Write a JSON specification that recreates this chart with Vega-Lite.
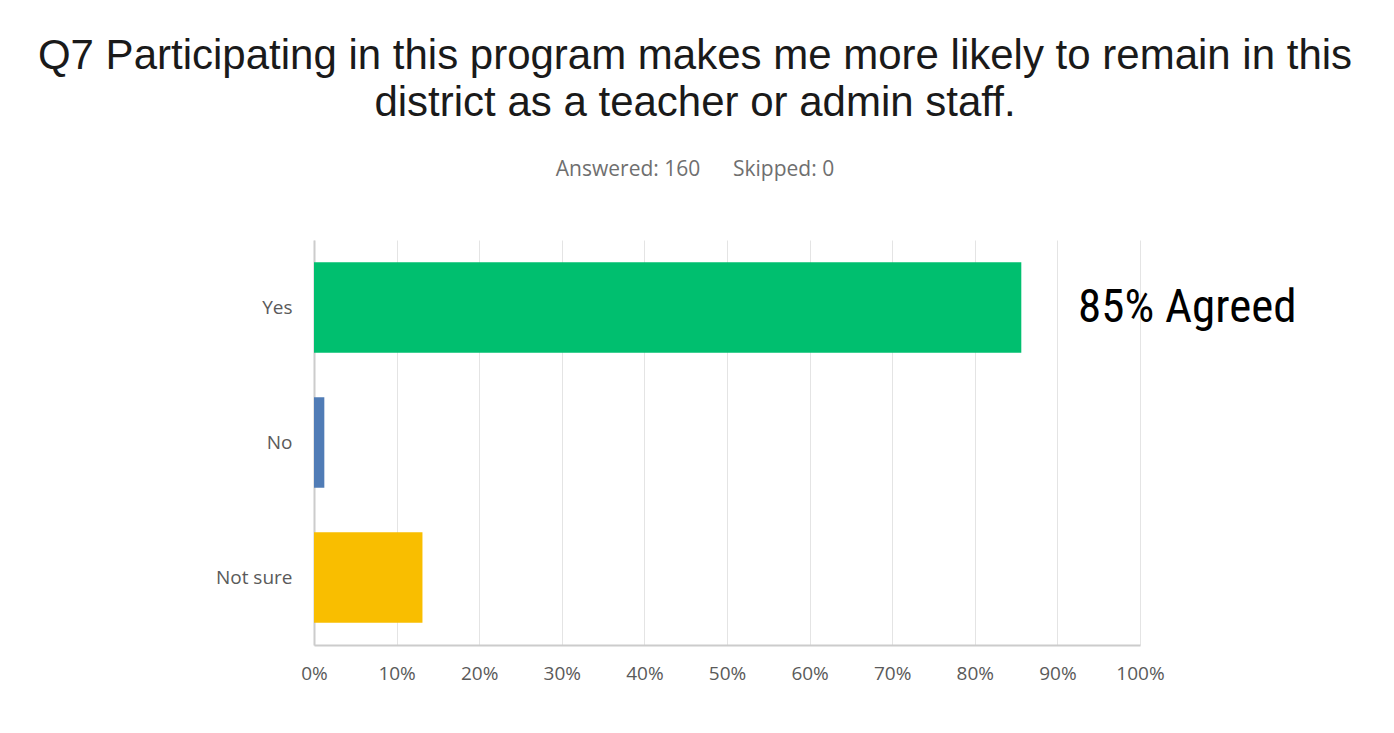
{
  "$schema": "https://vega.github.io/schema/vega-lite/v6.json",
  "width": 826,
  "height": 405,
  "autosize": {"type": "none"},
  "padding": {"left": 314, "top": 240, "right": 254, "bottom": 88},
  "background": "white",
  "title": {
    "text": ["Q7 Participating in this program makes me more likely to remain in this", "district as a teacher or admin staff."],
    "subtitle": "Answered: 160\u00a0\u00a0\u00a0\u00a0\u00a0 Skipped: 0",
    "font": "Liberation Sans",
    "fontSize": 42,
    "fontWeight": "normal",
    "color": "#1a1a1a",
    "lineHeight": 47,
    "subtitleFont": "Open Sans",
    "subtitleFontSize": 21,
    "subtitleColor": "#6f6f6f",
    "subtitlePadding": 34,
    "anchor": "middle",
    "dx": -32,
    "offset": 59
  },
  "config": {"view": {"stroke": null}},
  "data": {
    "values": [
      {"answer": "Yes", "pct": 85.63},
      {"answer": "No", "pct": 1.25},
      {"answer": "Not sure", "pct": 13.13}
    ]
  },
  "layer": [
    {
      "mark": {"type": "bar"},
      "encoding": {
        "y": {
          "field": "answer",
          "type": "nominal",
          "sort": ["Yes", "No", "Not sure"],
          "scale": {"paddingInner": 0.33, "paddingOuter": 0.165},
          "axis": {
            "title": null,
            "ticks": false,
            "domain": true,
            "domainColor": "#cccccc",
            "domainWidth": 2,
            "labelFont": "Open Sans",
            "labelFontSize": 19,
            "labelColor": "#5a5a5a",
            "labelPadding": 22,
            "grid": false
          }
        },
        "x": {
          "field": "pct",
          "type": "quantitative",
          "scale": {"domain": [0, 100]},
          "axis": {
            "title": null,
            "values": [0, 10, 20, 30, 40, 50, 60, 70, 80, 90, 100],
            "labelExpr": "datum.value + '%'",
            "labelFlush": false,
            "ticks": false,
            "domain": true,
            "domainColor": "#cccccc",
            "domainWidth": 2,
            "grid": true,
            "gridColor": "#e4e4e4",
            "labelFont": "Open Sans",
            "labelFontSize": 19,
            "labelColor": "#5a5a5a",
            "labelPadding": 19
          }
        },
        "color": {
          "field": "answer",
          "type": "nominal",
          "scale": {"domain": ["Yes", "No", "Not sure"], "range": ["#00bf6f", "#507cb6", "#f9be00"]},
          "legend": null
        }
      }
    },
    {
      "data": {"values": [{"answer": "Yes", "pct": 92.5, "label": "85% Agreed"}]},
      "mark": {
        "type": "text",
        "align": "left",
        "baseline": "middle",
        "font": "Roboto Condensed, Liberation Sans Narrow, DejaVu Sans Condensed, Roboto",
        "fontSize": 47,
        "fontWeight": "normal",
        "color": "#000000",
        "clip": false
      },
      "encoding": {
        "y": {"field": "answer", "type": "nominal", "sort": ["Yes", "No", "Not sure"]},
        "x": {"field": "pct", "type": "quantitative"},
        "text": {"field": "label"}
      }
    }
  ]
}
